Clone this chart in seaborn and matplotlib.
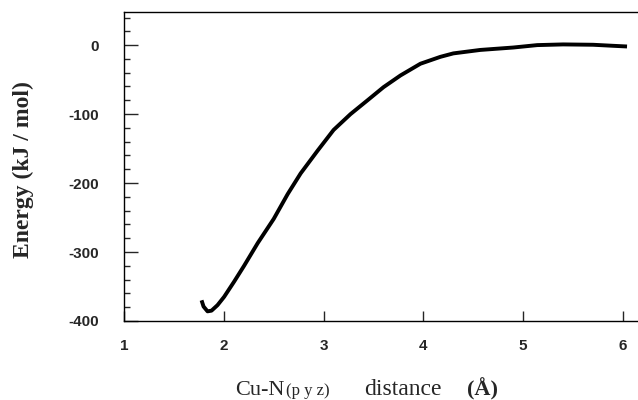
import pandas as pd
import matplotlib.pyplot as plt
import seaborn as sns
from matplotlib.ticker import MultipleLocator

# Cu-N(pyz) distance (A) and energy (kJ/mol)
distance = [1.777, 1.797, 1.837, 1.877, 1.937, 2.003, 2.103, 2.203, 2.34,
            2.50, 2.64, 2.77, 2.94, 3.10, 3.27, 3.44, 3.60, 3.77, 3.97,
            4.17, 4.30, 4.57, 4.90, 5.14, 5.40, 5.70, 5.90, 6.04]
energy = [-370, -379, -386, -385, -377, -365, -343, -320, -287,
          -252, -216, -186, -153, -123, -100, -80, -61, -44, -27,
          -17, -12, -7, -3.5, 0, 1, 0.5, -1, -2]

x_ticks = [1, 2, 3, 4, 5, 6]
y_ticks = [0, -100, -200, -300, -400]

df = pd.DataFrame({'distance': distance, 'energy': energy})

sns.set_style('ticks')
plt.rcParams['font.family'] = ['Liberation Sans', 'DejaVu Sans']
plt.rcParams['axes.unicode_minus'] = False

fig = plt.figure(figsize=(6.38, 4), dpi=100)
ax = fig.add_axes([124 / 638, 1 - 321 / 400, 1 - 124 / 638, 309 / 400])

sns.lineplot(data=df, x='distance', y='energy', ax=ax, color='black',
             linewidth=2.8, solid_capstyle='butt', solid_joinstyle='round')

ax.set_xlim(1.0, 6.15)
ax.set_ylim(-400, 48)
ax.set_xticks(x_ticks)
ax.set_yticks(y_ticks)
ax.yaxis.set_minor_locator(MultipleLocator(20))

for s in ['top', 'bottom', 'left']:
    ax.spines[s].set_linewidth(1.0)
    ax.spines[s].set_color('black')
ax.spines['right'].set_visible(False)

ax.tick_params(axis='y', which='major', direction='in', length=10, width=1,
               pad=18, labelsize=11)
ax.tick_params(axis='y', which='minor', direction='in', length=4, width=1)
ax.tick_params(axis='x', which='major', direction='in', length=7, width=1,
               pad=13, labelsize=11)
for lab in ax.get_xticklabels() + ax.get_yticklabels():
    lab.set_fontweight('bold')

ax.set_xlabel('')
ax.set_ylabel('')

serif = ['Liberation Serif', 'DejaVu Serif']

# y label, bold serif
fig.text(23 / 638, 1 - 170 / 400, 'Energy (kJ / mol)', rotation=90,
         ha='center', va='center', fontsize=17, fontweight='bold',
         family=serif)

# x label built from pieces, "(pyz)" smaller
base_y = 1 - 395 / 400
fig.text(235 / 638, base_y, 'Cu-N', fontsize=16, family=serif,
         ha='left', va='baseline')
fig.text(286 / 638, base_y, '(p y z)', fontsize=12, family=serif,
         ha='left', va='baseline')
fig.text(364 / 638, base_y, 'distance', fontsize=17, family=serif,
         ha='left', va='baseline')
fig.text(467 / 638, base_y, '(Å)', fontsize=16, fontweight='bold',
         family=serif, ha='left', va='baseline')

plt.savefig('out.png', dpi=100)
